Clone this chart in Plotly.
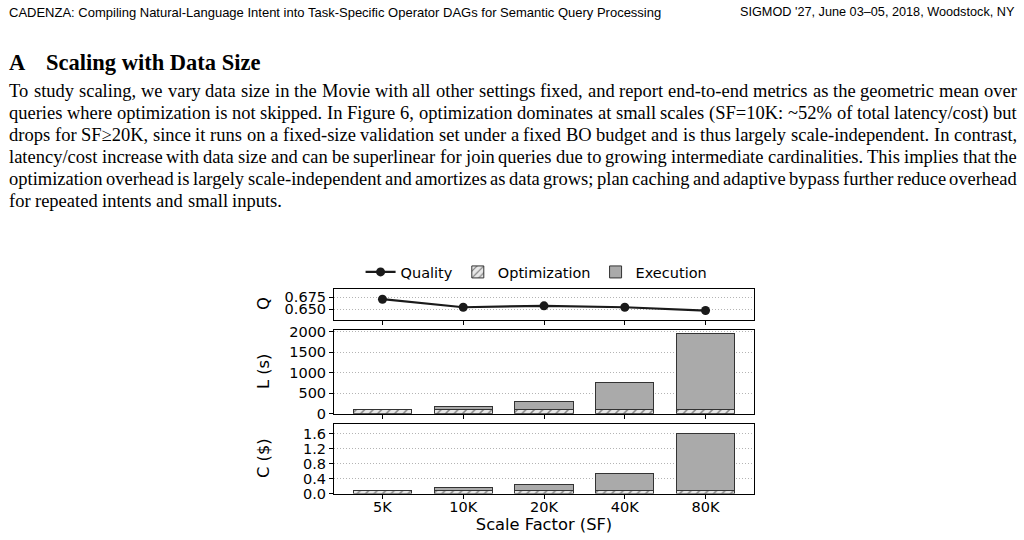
import plotly.graph_objects as go

# ---------------- data ----------------
scale_factors = ["5K", "10K", "20K", "40K", "80K"]
quality = [0.671, 0.654, 0.657, 0.654, 0.647]
opt_latency = [95, 95, 95, 97, 97]
exec_latency = [12, 92, 210, 663, 1853]
opt_cost = [0.08, 0.08, 0.08, 0.085, 0.085]
exec_cost = [0.012, 0.075, 0.15, 0.46, 1.505]

q_ticks = [0.650, 0.675]
l_ticks = [0, 500, 1000, 1500, 2000]
c_ticks = [0.0, 0.4, 0.8, 1.2, 1.6]

header_left = "CADENZA: Compiling Natural-Language Intent into Task-Specific Operator DAGs for Semantic Query Processing"
header_right = "SIGMOD '27, June 03–05, 2018, Woodstock, NY"
section_num = "A"
section_title = "Scaling with Data Size"
paragraph = [
    "To study scaling, we vary data size in the Movie with all other settings fixed, and report end-to-end metrics as the geometric mean over",
    "queries where optimization is not skipped. In Figure 6, optimization dominates at small scales (SF=10K: ~52% of total latency/cost) but",
    "drops for SF≥20K, since it runs on a fixed-size validation set under a fixed BO budget and is thus largely scale-independent. In contrast,",
    "latency/cost increase with data size and can be superlinear for join queries due to growing intermediate cardinalities. This implies that the",
    "optimization overhead is largely scale-independent and amortizes as data grows; plan caching and adaptive bypass further reduce overhead",
    "for repeated intents and small inputs.",
]

W, H = 1024, 540
CH = "DejaVu Sans"
EXEC_COLOR = "#aaaaaa"
OPT_BG = "#e8e8e8"
EDGE = "#333333"

# Times / Liberation Serif advance widths (1/1000 em) used for justifying paragraph lines
TW = {' ': 250, '%': 833, "'": 333, '(': 333, ')': 333, ',': 250, '-': 333, '.': 250, '/': 278,
      ':': 278, ';': 278, '=': 564, '~': 541, '≥': 549,
      'A': 722, 'B': 667, 'C': 667, 'D': 722, 'E': 611, 'F': 556, 'G': 722, 'H': 722, 'I': 333,
      'J': 389, 'K': 722, 'L': 611, 'M': 889, 'N': 722, 'O': 722, 'P': 556, 'Q': 722, 'R': 667,
      'S': 556, 'T': 611, 'U': 722, 'V': 722, 'W': 944, 'X': 722, 'Y': 722, 'Z': 611,
      'a': 444, 'b': 500, 'c': 444, 'd': 500, 'e': 444, 'f': 333, 'g': 500, 'h': 500, 'i': 278,
      'j': 278, 'k': 500, 'l': 278, 'm': 778, 'n': 500, 'o': 500, 'p': 500, 'q': 500, 'r': 333,
      's': 389, 't': 278, 'u': 500, 'v': 500, 'w': 722, 'x': 500, 'y': 500, 'z': 444}
for d in "0123456789":
    TW[d] = 500

def text_w(s, size):
    return sum(TW.get(ch, 500) for ch in s) * size / 1000.0

fig = go.Figure()

fig.add_trace(go.Scatter(
    x=scale_factors, y=quality, mode="lines+markers", name="Quality",
    line=dict(color="#1a1a1a", width=2.2), marker=dict(color="#1a1a1a", size=9),
    xaxis="x3", yaxis="y3"))

for i, (opt, ex, xa, ya) in enumerate([(opt_latency, exec_latency, "x2", "y2"),
                                        (opt_cost, exec_cost, "x", "y")]):
    fig.add_trace(go.Bar(
        x=scale_factors, y=opt, name="Optimization", width=0.72,
        marker=dict(color=OPT_BG, line=dict(color=EDGE, width=1),
                    pattern=dict(shape="/", fgcolor="#222222", bgcolor=OPT_BG, size=6, solidity=0.25)),
        showlegend=(i == 0), legendgroup="opt", xaxis=xa, yaxis=ya))
    fig.add_trace(go.Bar(
        x=scale_factors, y=ex, name="Execution", width=0.72,
        marker=dict(color=EXEC_COLOR, line=dict(color=EDGE, width=1)),
        showlegend=(i == 0), legendgroup="exec", xaxis=xa, yaxis=ya))

xdom = [334 / W, 754 / W]
def py(p):
    return 1 - p / H

common_x = dict(domain=xdom, range=[-0.6, 4.6], showline=True, linecolor="black", linewidth=1,
                mirror=True, ticks="outside", ticklen=4, tickcolor="black", showgrid=False,
                automargin=False, ticklabelstandoff=-4,
                tickfont=dict(family=CH, size=14.5, color="black"), categoryorder="array",
                categoryarray=scale_factors)
common_y = dict(showline=True, linecolor="black", linewidth=1, mirror=True, ticks="outside",
                ticklen=4, tickcolor="black", showgrid=True, gridcolor="#b4b4b4", griddash="1px,2px",
                gridwidth=1, zeroline=False, automargin=False,
                tickfont=dict(family=CH, size=14.5, color="black"))

fig.update_layout(
    width=W, height=H, margin=dict(l=0, r=0, t=0, b=0, pad=0, autoexpand=False),
    paper_bgcolor="white", plot_bgcolor="white", barmode="stack",
    font=dict(family=CH, color="black"),
    xaxis=dict(**common_x, anchor="y",
               title=dict(text="Scale Factor (SF)", font=dict(family=CH, size=16.3), standoff=2)),
    xaxis2=dict(**common_x, anchor="y2", showticklabels=False, matches="x"),
    xaxis3=dict(**common_x, anchor="y3", showticklabels=False, matches="x"),
    yaxis=dict(**common_y, domain=[py(493.5), py(423.5)], range=[0, 1.87],
               tickvals=c_ticks, tickformat=".1f", anchor="x"),
    yaxis2=dict(**common_y, domain=[py(413.7), py(330)], range=[0, 2045],
                tickvals=l_ticks, anchor="x2"),
    yaxis3=dict(**common_y, domain=[py(319.5), py(289.3)], range=[0.628, 0.692],
                tickvals=q_ticks, tickformat=".3f", anchor="x3"),
    legend=dict(orientation="h", x=0.524, xanchor="center", y=py(272), yanchor="middle",
                font=dict(family=CH, size=14.5), bgcolor="rgba(0,0,0,0)", traceorder="normal",
                itemwidth=30, tracegroupgap=0),
)

ann = []
for txt, yc in [("Q", 304), ("L (s)", 372), ("C ($)", 458)]:
    ann.append(dict(text=txt, x=263 / W, y=py(yc), xref="paper", yref="paper", showarrow=False,
                    textangle=-90, font=dict(family=CH, size=16.3, color="black"),
                    xanchor="center", yanchor="middle"))

HF = "Liberation Sans Narrow, Liberation Sans"
ann.append(dict(text=header_left, x=8 / W, y=py(12), xref="paper", yref="paper", showarrow=False,
                xanchor="left", yanchor="middle", borderpad=0,
                font=dict(family=HF, size=13, color="black")))
ann.append(dict(text=header_right, x=1016 / W, y=py(12), xref="paper", yref="paper", showarrow=False,
                xanchor="right", yanchor="middle", borderpad=0,
                font=dict(family=HF, size=12.7, color="black")))
ann.append(dict(text="<b>" + section_num + "</b>", x=8 / W, y=py(62), xref="paper", yref="paper",
                showarrow=False, xanchor="left", yanchor="middle", borderpad=0,
                font=dict(family="Liberation Serif", size=22.5, color="black")))
ann.append(dict(text="<b>" + section_title + "</b>", x=45 / W, y=py(62), xref="paper", yref="paper",
                showarrow=False, xanchor="left", yanchor="middle", borderpad=0,
                font=dict(family="Liberation Serif", size=22.5, color="black")))

PS = 18.5
LEFT, RIGHT = 8.0, 1016.0
for k, line in enumerate(paragraph):
    words = line.split(" ")
    widths = [text_w(w, PS) for w in words]
    last = (k == len(paragraph) - 1)
    if last or len(words) < 2:
        gap = TW[' '] * PS / 1000.0
    else:
        gap = (RIGHT - LEFT - sum(widths)) / (len(words) - 1)
    xpos = LEFT
    for w, wd in zip(words, widths):
        ann.append(dict(text=w, x=xpos / W, y=py(91 + 22 * k), xref="paper", yref="paper",
                        showarrow=False, xanchor="left", yanchor="middle", borderpad=0,
                        font=dict(family="Liberation Serif", size=PS, color="black")))
        xpos += wd + gap

fig.update_layout(annotations=ann)
fig.write_html("out.html")
